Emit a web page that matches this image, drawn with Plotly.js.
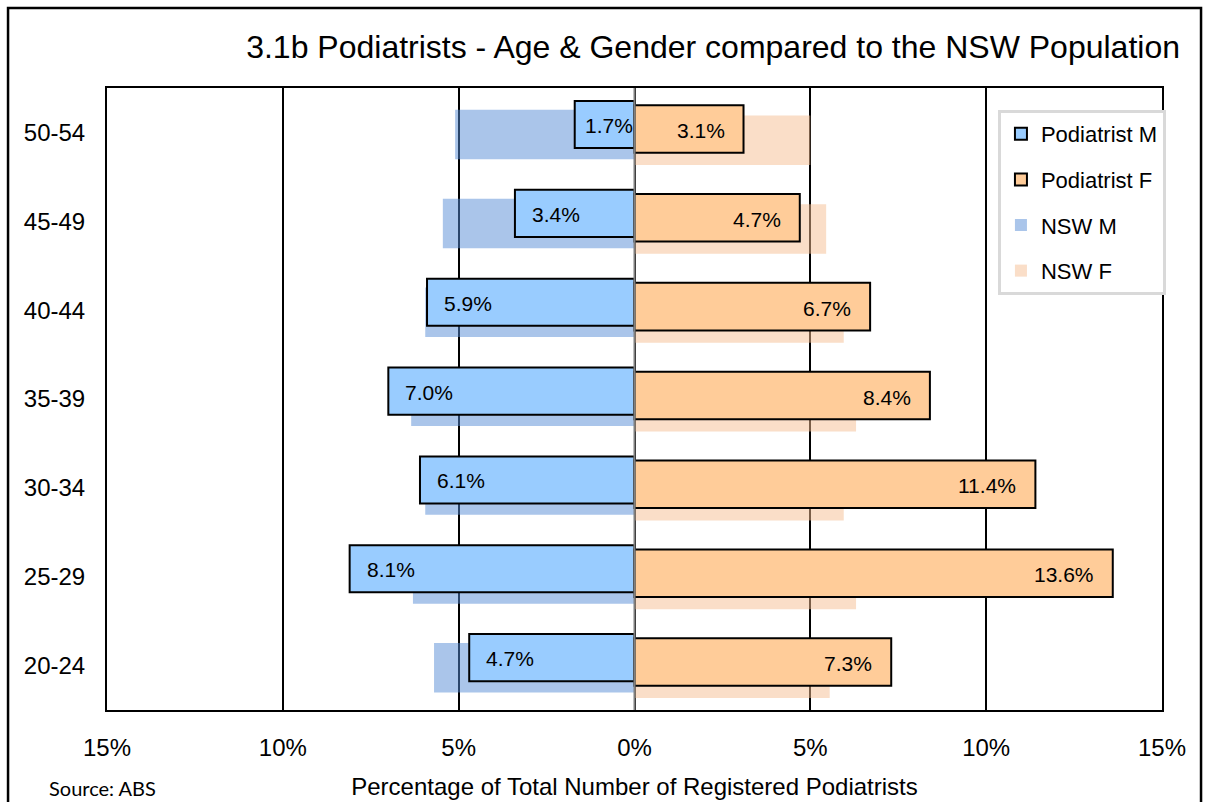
<!DOCTYPE html>
<html>
<head>
<meta charset="utf-8">
<script src="https://cdn.plot.ly/plotly-3.0.1.min.js"></script>
<style>
  html, body { margin: 0; padding: 0; background: #ffffff; }
  #chart { width: 1206px; height: 802px; }
</style>
</head>
<body>
<div id="chart"></div>
<script>
// ---- data ----
const ages = ['20-24', '25-29', '30-34', '35-39', '40-44', '45-49', '50-54'];
const podiatristM = [4.7, 8.1, 6.1, 7.0, 5.9, 3.4, 1.7];
const podiatristF = [7.3, 13.6, 11.4, 8.4, 6.7, 4.7, 3.1];
const nswM = [5.7, 6.3, 5.95, 6.35, 5.95, 5.45, 5.1];
const nswF = [5.55, 6.3, 5.95, 6.3, 5.95, 5.45, 5.0];
const tickValues = [-15, -10, -5, 0, 5, 10, 15];
const tickLabels = ['15%', '10%', '5%', '0%', '5%', '10%', '15%'];

const FONT = '"Liberation Sans", Arial, sans-serif';
const neg = a => a.map(v => -v);
const PX_PER_UNIT = 1055 / 30;

const traces = [
  {
    type: 'bar', orientation: 'h', name: 'NSW M', y: ages, x: neg(nswM),
    width: 0.557, offset: -0.303,
    marker: { color: 'rgba(85,139,213,0.5)', line: { width: 0 } },
    legendgroup: 'g3', legendrank: 3, hoverinfo: 'skip'
  },
  {
    type: 'bar', orientation: 'h', name: 'NSW F', y: ages, x: nswF,
    width: 0.557, offset: -0.366,
    marker: { color: 'rgba(245,189,145,0.5)', line: { width: 0 } },
    legendgroup: 'g4', legendrank: 4, hoverinfo: 'skip'
  },
  {
    type: 'bar', orientation: 'h', name: 'Podiatrist M', y: ages, x: neg(podiatristM),
    width: 0.53, offset: -0.176,
    marker: { color: '#99CCFF', line: { color: '#000000', width: 2 } },
    legendgroup: 'g1', legendrank: 1, hoverinfo: 'skip'
  },
  {
    type: 'bar', orientation: 'h', name: 'Podiatrist F', y: ages, x: podiatristF,
    width: 0.535, offset: -0.228,
    marker: { color: '#FFCC99', line: { color: '#000000', width: 2 } },
    legendgroup: 'g2', legendrank: 2, hoverinfo: 'skip'
  }
];

const annotations = [];
ages.forEach((a, i) => {
  annotations.push({
    x: -podiatristM[i], y: a, xref: 'x', yref: 'y',
    text: podiatristM[i].toFixed(1) + '%', showarrow: false,
    xanchor: 'left', yanchor: 'middle',
    xshift: Math.min(15, podiatristM[i] * PX_PER_UNIT - 52), yshift: 7,
    font: { family: FONT, size: 21, color: '#000000' }
  });
  annotations.push({
    x: podiatristF[i], y: a, xref: 'x', yref: 'y',
    text: podiatristF[i].toFixed(1) + '%', showarrow: false,
    xanchor: 'right', yanchor: 'middle', xshift: -17, yshift: 2,
    font: { family: FONT, size: 21, color: '#000000' }
  });
});
annotations.push({
  x: -0.0569, y: -0.1254, xref: 'paper', yref: 'paper',
  text: 'Source: ABS', showarrow: false, xanchor: 'left', yanchor: 'middle',
  font: { family: 'Lato, "Open Sans", sans-serif', size: 20, color: '#000000' }
});

const layout = {
  width: 1206, height: 802,
  margin: { l: 107, r: 44, t: 88, b: 92 },
  paper_bgcolor: '#ffffff', plot_bgcolor: '#ffffff',
  barmode: 'overlay',
  font: { family: FONT, color: '#000000' },
  title: {
    text: '3.1b Podiatrists - Age &amp; Gender compared to the NSW Population',
    font: { family: FONT, size: 32, color: '#000000' },
    xref: 'container', x: 1180 / 1206, xanchor: 'right',
    yref: 'container', y: 1 - 47 / 802, yanchor: 'middle'
  },
  xaxis: {
    range: [-15, 15], tickmode: 'array', tickvals: tickValues, ticktext: tickLabels,
    showgrid: true, gridcolor: '#000000', gridwidth: 2,
    zeroline: false, showline: true, linecolor: '#000000', linewidth: 2, mirror: true,
    ticks: '', ticklabelstandoff: 15,
    tickfont: { family: FONT, size: 24, color: '#000000' },
    title: {
      text: 'Percentage of Total Number of Registered Podiatrists',
      font: { family: FONT, size: 24, color: '#000000' }, standoff: 18
    },
    fixedrange: true, automargin: false
  },
  yaxis: {
    type: 'category', categoryorder: 'array', categoryarray: ages,
    range: [-0.5, 6.5],
    showgrid: false, zeroline: false, showline: true, linecolor: '#000000', linewidth: 2, mirror: true,
    ticks: '', ticklabelstandoff: 15,
    tickfont: { family: FONT, size: 24, color: '#000000' },
    fixedrange: true, automargin: false
  },
  legend: {
    x: 0.8445, y: 0.9646, xanchor: 'left', yanchor: 'top',
    bgcolor: '#ffffff', bordercolor: '#D9D9D9', borderwidth: 3,
    font: { family: FONT, size: 22, color: '#000000' },
    traceorder: 'grouped', tracegroupgap: 14
  },
  showlegend: true,
  shapes: [
    { type: 'line', xref: 'x', yref: 'paper', x0: 0, x1: 0, y0: 0, y1: 1,
      line: { color: '#808080', width: 2 }, layer: 'above' },
    { type: 'rect', xref: 'paper', yref: 'paper',
      x0: -0.0938, x1: 1.0370, y0: -0.17, y1: 1.1286,
      line: { color: '#000000', width: 2.5 }, fillcolor: 'rgba(0,0,0,0)', layer: 'below' }
  ],
  annotations: annotations
};

Plotly.newPlot('chart', traces, layout, { displayModeBar: false, staticPlot: true });
</script>
</body>
</html>
